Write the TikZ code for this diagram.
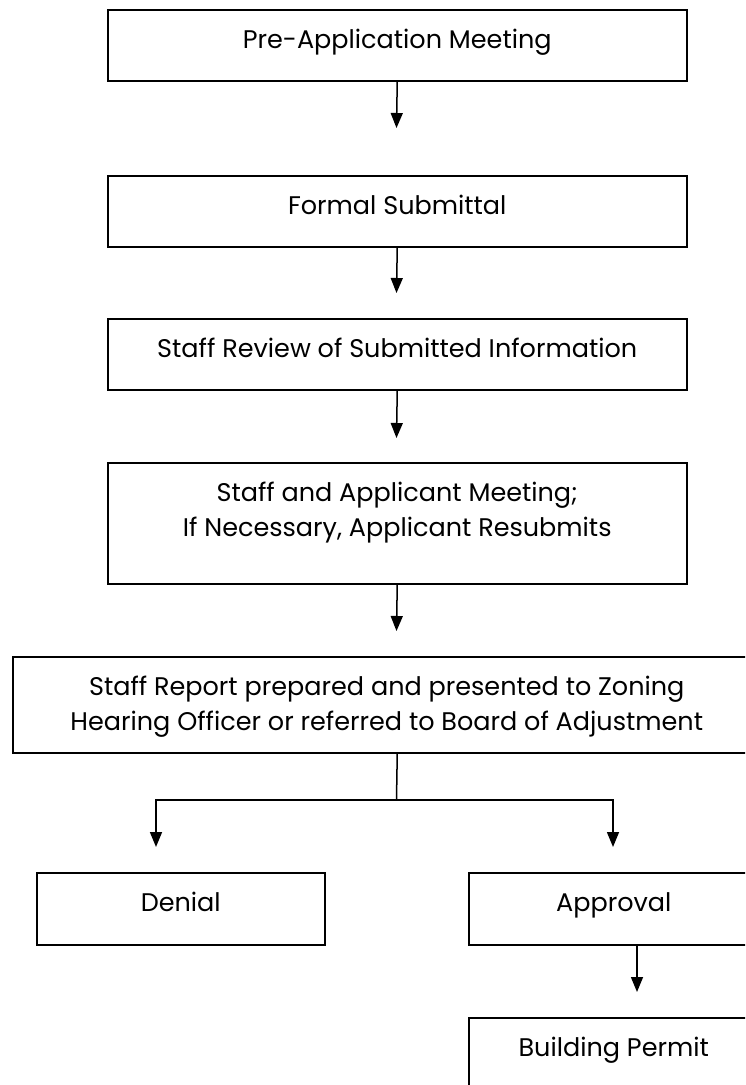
\documentclass[tikz,border=0pt]{standalone}
\usepackage{fontspec}
\setmainfont{Poppins}
\usetikzlibrary{arrows.meta,calc}
\newcommand{\cbox}[3]{\parbox[t][#2pt][t]{#1pt}{\centering\fontsize{25.5pt}{35pt}\selectfont\rule{0pt}{39pt}#3}}
\tikzset{
  box/.style={draw=black, line width=1.5pt, inner sep=0pt, anchor=north west},
  arr/.style={line width=1.5pt, -{Triangle[width=12pt,length=15pt]}},
  ln/.style={line width=1.5pt}
}
\begin{document}
\begin{tikzpicture}[x=1pt,y=1pt]
\useasboundingbox (0,0) rectangle (745,-1085);
\clip (0,0) rectangle (745,-1085);
\node[box] (b1) at (107,-9) {\cbox{579}{71}{Pre-Application Meeting}};
\node[box] (b2) at (107,-175) {\cbox{579}{71}{Formal Submittal}};
\node[box] (b3) at (107,-318) {\cbox{579}{71}{Staff Review of Submitted Information}};
\node[box] (b4) at (107,-462) {\cbox{579}{121}{Staff and Applicant Meeting;\\If Necessary, Applicant Resubmits}};
\node[box] (b5) at (12,-656) {\cbox{748}{96}{Staff Report prepared and presented to Zoning\\Hearing Officer or referred to Board of Adjustment}};
\node[box] (b6) at (36,-872) {\cbox{288}{72}{Denial}};
\node[box] (b7) at (468,-872) {\cbox{290}{72}{Approval}};
\node[box] (b8) at (468,-1017) {\cbox{290}{120}{Building Permit}};
\coordinate (a1) at (396.5,-128);
\coordinate (a2) at (396.5,-293);
\coordinate (a3) at (396.5,-438);
\coordinate (a4) at (396.5,-631);
\coordinate (j) at (396.5,-800);
\coordinate (dl) at (156,-847);
\coordinate (dr) at (613,-847);
\coordinate (ap) at (637,-992);
\draw[arr] (b1.south) -- (a1);
\draw[arr] (b2.south) -- (a2);
\draw[arr] (b3.south) -- (a3);
\draw[arr] (b4.south) -- (a4);
\draw[ln] (b4.south |- b5.south) -- (j);
\draw[arr] (j) -| (dl);
\draw[arr] (j) -| (dr);
\draw[arr] (ap |- b7.south) -- (ap);
\end{tikzpicture}
\end{document}
